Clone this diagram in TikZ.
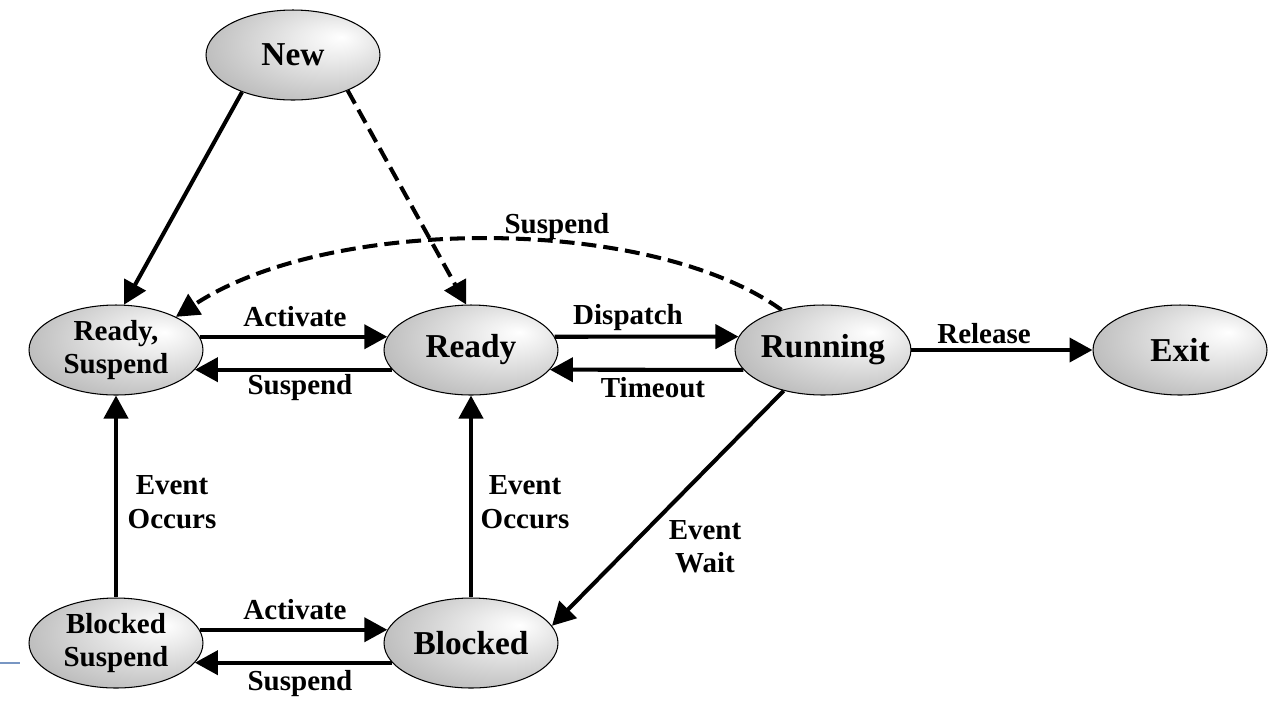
\documentclass[tikz,border=0pt]{standalone}
\usepackage{fontspec}
\setmainfont{Liberation Serif}
\usetikzlibrary{shapes.geometric,arrows.meta}
\pgfdeclareradialshading{stateshading}{\pgfpoint{14bp}{10bp}}{color(0bp)=(white); color(10bp)=(white!85!gray); color(35bp)=(gray!55); color(65bp)=(gray!85)}
\definecolor{rulecol}{RGB}{120,150,195}
\begin{document}
\begin{tikzpicture}[x=0.02cm, y=-0.02cm,
  state/.style={ellipse, draw, line width=0.6pt, shading=stateshading, minimum width=3.48cm, minimum height=1.8cm, inner sep=0pt, font=\fontsize{19}{21}\selectfont\bfseries},
  smallstate/.style={state, font=\fontsize{16.5}{19}\selectfont\bfseries, align=center},
  lbl/.style={font=\fontsize{16.5}{19}\selectfont\bfseries, align=center, inner sep=0pt},
  arr/.style={line width=2.3pt, -{Triangle[length=0.46cm, width=0.48cm]}},
  darr/.style={arr, dash pattern=on 8.5pt off 4pt}]
\useasboundingbox (0,0) rectangle (1284,718);
\node[state] (new) at (293,55){New};
\node[smallstate] (rdysus) at (116,350){Ready,\\Suspend};
\node[state] (rdy) at (471,350){Ready};
\node[state] (run) at (823,350){Running};
\node[state] (exit) at (1180,350){Exit};
\node[smallstate] (blksus) at (116,643){Blocked\\Suspend};
\node[state] (blk) at (471,643){Blocked};
\draw[arr] (new.216) -- (rdysus.80);
\draw[darr] (new.327) -- (rdy.96);
\draw[darr] (run.136) .. controls (650,215) and (330,215) .. (rdysus.29);
\draw[arr] (rdysus.9) -- (rdy.171);
\draw[arr] (rdy.194) -- (rdysus.-14);
\draw[arr] (rdy.9) -- (run.171);
\draw[arr] (run.194) -- (rdy.-14);
\draw[arr] (run) -- (exit);
\draw[arr] (blksus) -- (rdysus);
\draw[arr] (blk) -- (rdy);
\draw[arr] (run.226) -- (blk.12);
\draw[arr] (blksus.9) -- (blk.171);
\draw[arr] (blk.194) -- (blksus.-14);
\node[lbl] (lsusp) at (557,227){Suspend};
\node[lbl] (lact) at (295,317){Activate};
\node[lbl] (lsus) at (300,388){Suspend};
\node[lbl] (ldisp) at (628,318){Dispatch};
\node[lbl] (ltime) at (653,388){Timeout};
\node[lbl] (lrel) at (984,334){Release};
\node[lbl] (loccl) at (172,502){Event\\Occurs};
\node[lbl] (loccr) at (525,502){Event\\Occurs};
\node[lbl] (lwait) at (705,547){Event\\Wait};
\node[lbl] (lactb) at (295,610){Activate};
\node[lbl] (lsusb) at (300,684){Suspend};
\draw[rulecol, line width=1pt] (0,663) -- (20,663);
\end{tikzpicture}
\end{document}
